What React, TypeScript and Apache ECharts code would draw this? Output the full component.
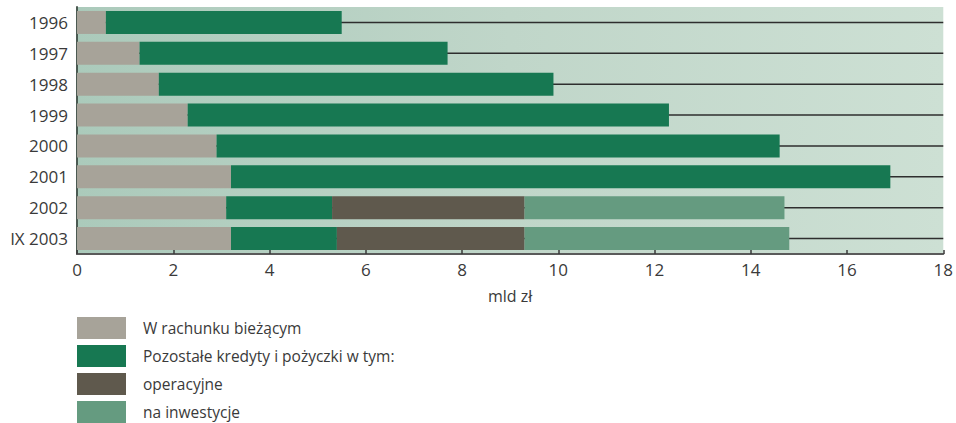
import React, { useEffect, useRef } from "react";
import * as echarts from "echarts";

const categories = ["1996", "1997", "1998", "1999", "2000", "2001", "2002", "IX 2003"];
const currentAccount = [0.6, 1.3, 1.7, 2.3, 2.9, 3.2, 3.1, 3.2];
const otherLoans = [4.9, 6.4, 8.2, 10.0, 11.7, 13.7, 2.2, 2.2];
const operating = [null, null, null, null, null, null, 4.0, 3.9];
const investment = [null, null, null, null, null, null, 5.4, 5.5];
const xTicks = [0, 2, 4, 6, 8, 10, 12, 14, 16, 18];

const seriesNames = [
  "W rachunku bieżącym",
  "Pozostałe kredyty i pożyczki w tym:",
  "operacyjne",
  "na inwestycje",
];
const colors = ["#a7a399", "#177852", "#5f594d", "#659b80"];

const FONT = "'Open Sans', 'Noto Sans', sans-serif";

export default function App() {
  const ref = useRef<HTMLDivElement>(null);

  useEffect(() => {
    if (!ref.current) return;
    const chart = echarts.init(ref.current, null, { renderer: "svg" });
    const xMax = xTicks[xTicks.length - 1];

    const stacked = [currentAccount, otherLoans, operating, investment].map((data, i) => ({
      name: seriesNames[i],
      type: "bar",
      stack: "total",
      data,
      barWidth: 23,
      itemStyle: { color: colors[i] },
      z: 3,
    }));

    chart.setOption({
      animation: false,
      textStyle: { fontFamily: FONT },
      grid: {
        left: 77,
        right: 12,
        top: 7,
        bottom: 169,
        show: true,
        borderWidth: 0,
        backgroundColor: new echarts.graphic.LinearGradient(0, 0, 1, 0, [
          { offset: 0, color: "#abcabb" },
          { offset: 0.5, color: "#c0d6c9" },
          { offset: 1, color: "#cde0d4" },
        ]),
      },
      legend: {
        orient: "vertical",
        left: 77,
        top: 317,
        padding: 0,
        itemWidth: 49,
        itemHeight: 22,
        itemGap: 6,
        icon: "rect",
        data: seriesNames,
        selectedMode: false,
        textStyle: {
          fontFamily: FONT,
          fontSize: 15.5,
          color: "#3a3a3a",
          padding: [0, 0, 0, 12],
        },
      },
      xAxis: {
        type: "value",
        min: 0,
        max: xMax,
        interval: 2,
        name: "mld zł",
        nameLocation: "middle",
        nameGap: 34,
        nameTextStyle: { fontFamily: FONT, fontSize: 16, color: "#3a3a3a" },
        axisLine: { show: true, lineStyle: { color: "#5a5a5a", width: 2 } },
        axisTick: { show: true, inside: true, length: 4, lineStyle: { color: "#3a3a3a", width: 1.5 } },
        splitLine: { show: false },
        axisLabel: { fontFamily: FONT, fontSize: 17, color: "#3a3a3a", margin: 7 },
      },
      yAxis: {
        type: "category",
        data: categories,
        inverse: true,
        axisLine: { show: true, lineStyle: { color: "#4b5a52", width: 2 } },
        axisTick: { show: false },
        axisLabel: { fontFamily: FONT, fontSize: 17, color: "#3a3a3a", margin: 9 },
      },
      series: [
        {
          type: "custom",
          z: 1,
          silent: true,
          data: categories.map((_, i) => [0, i]),
          encode: { x: 0, y: 1 },
          renderItem: (_params: any, api: any) => {
            const idx = api.value(1);
            const a = api.coord([0, idx]);
            const b = api.coord([xMax, idx]);
            return {
              type: "line",
              shape: { x1: a[0], y1: a[1], x2: b[0], y2: b[1] },
              style: { stroke: "#2e2e2e", lineWidth: 1.5 },
            };
          },
        },
        ...stacked,
      ],
    });

    return () => chart.dispose();
  }, []);

  return (
    <div
      ref={ref}
      style={{ position: "absolute", left: 0, top: 0, width: 956, height: 423 }}
    />
  );
}
